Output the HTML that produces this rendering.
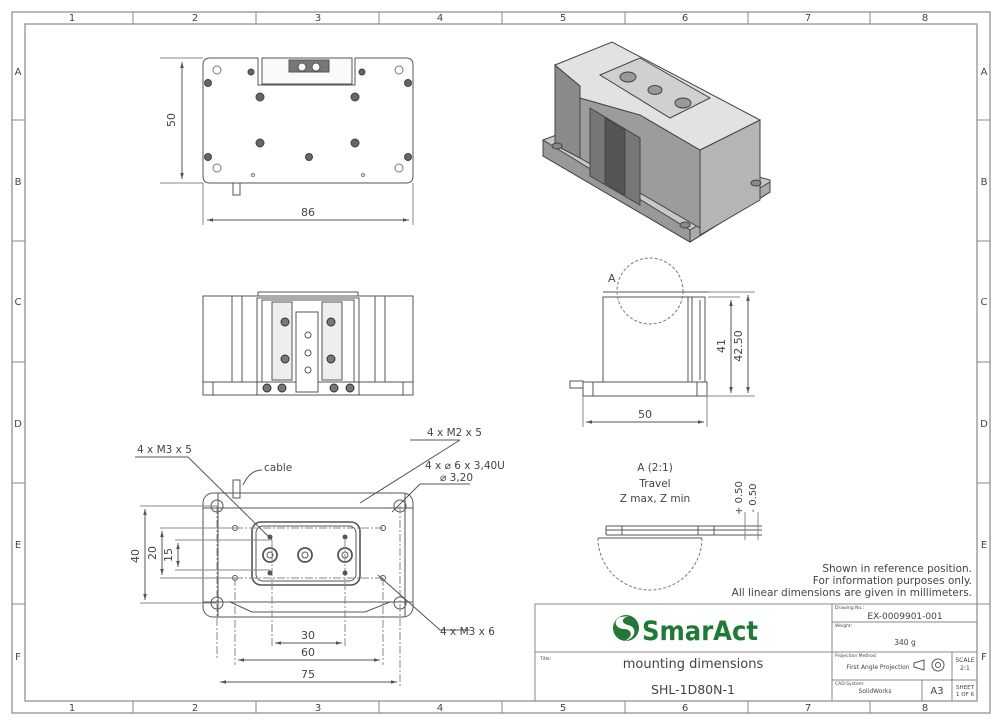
<!DOCTYPE html>
<html><head><meta charset="utf-8"><style>
html,body{margin:0;padding:0;background:#fff}
svg{display:block}
text{font-family:"DejaVu Sans","Liberation Sans",sans-serif;fill:#444}
</style></head><body>
<svg width="1000" height="724" viewBox="0 0 1000 724" xmlns="http://www.w3.org/2000/svg">
<defs>
<marker id="a" viewBox="0 0 10 10" refX="10" refY="5" markerWidth="6" markerHeight="6" orient="auto-start-reverse"><path d="M0,2 L10,5 L0,8z" fill="#555"/></marker>
</defs>
<g fill="none" stroke="#888" stroke-width="1.2">
<rect x="12" y="12" width="978" height="701"/>
<rect x="25" y="24" width="952" height="677"/>
</g>
<g stroke="#888" stroke-width="1">
<path d="M133 12V24M256 12V24M379 12V24M502 12V24M625 12V24M748 12V24M870 12V24M133 701V713M256 701V713M379 701V713M502 701V713M625 701V713M748 701V713M870 701V713"/>
<path d="M12 120H25M12 241H25M12 362H25M12 483H25M12 604H25M977 120H990M977 241H990M977 362H990M977 483H990M977 604H990"/>
</g>
<g font-size="10" text-anchor="middle">
<text x="72" y="21">1</text><text x="195" y="21">2</text><text x="318" y="21">3</text><text x="440" y="21">4</text><text x="563" y="21">5</text><text x="685" y="21">6</text><text x="808" y="21">7</text><text x="925" y="21">8</text>
<text x="72" y="711">1</text><text x="195" y="711">2</text><text x="318" y="711">3</text><text x="440" y="711">4</text><text x="563" y="711">5</text><text x="685" y="711">6</text><text x="808" y="711">7</text><text x="925" y="711">8</text>
<text x="18" y="75">A</text><text x="18" y="185">B</text><text x="18" y="305">C</text><text x="18" y="427">D</text><text x="18" y="548">E</text><text x="18" y="660">F</text>
<text x="984" y="75">A</text><text x="984" y="185">B</text><text x="984" y="305">C</text><text x="984" y="427">D</text><text x="984" y="548">E</text><text x="984" y="660">F</text>
</g>

<!-- TOP VIEW -->
<g fill="none" stroke="#555" stroke-width="1">
<path d="M210 58H258V85H355V58H406Q413 58 413 65V176Q413 183 406 183H210Q203 183 203 176V65Q203 58 210 58Z"/>
<rect x="262" y="58" width="90" height="26" fill="#fafafa"/>
<rect x="289" y="60" width="40" height="12" fill="#777"/>
<circle cx="302" cy="67" r="4" fill="#fff"/><circle cx="316" cy="67" r="4" fill="#fff"/>
<rect x="233" y="183" width="7" height="12"/>
<path d="M203 183H160M203 58H160" stroke="#888"/>
<path d="M182 62V179" marker-start="url(#a)" marker-end="url(#a)"/>
<path d="M203 183V225M413 183V225" stroke="#888"/>
<path d="M207 220H409" marker-start="url(#a)" marker-end="url(#a)"/>
</g>
<g fill="#666" stroke="#444">
<circle cx="260" cy="97" r="4"/><circle cx="355" cy="97" r="4"/><circle cx="260" cy="143" r="4"/><circle cx="355" cy="143" r="4"/>
<circle cx="309" cy="157" r="3.5"/><circle cx="208" cy="83" r="3.5"/><circle cx="408" cy="83" r="3.5"/><circle cx="208" cy="157" r="3.5"/><circle cx="408" cy="157" r="3.5"/>
<circle cx="251" cy="72" r="3"/><circle cx="362" cy="72" r="3"/>
</g>
<g fill="none" stroke="#777"><circle cx="217" cy="70" r="4"/><circle cx="399" cy="70" r="4"/><circle cx="217" cy="168" r="4"/><circle cx="399" cy="168" r="4"/><circle cx="253" cy="175" r="1.5"/><circle cx="363" cy="175" r="1.5"/></g>
<text x="175" y="120" font-size="11" text-anchor="middle" transform="rotate(-90 175 120)">50</text>
<text x="308" y="216" font-size="11" text-anchor="middle">86</text>

<!-- 3D VIEW -->
<g stroke="#444" stroke-width="1">
<path d="M543 140L575 128L770 180L770 192L690 242L543 156Z" fill="#c8c8c8"/>
<path d="M543 140L543 156L690 242L690 230Z" fill="#999"/>
<path d="M690 230L770 182L770 192L690 242Z" fill="#aaa"/>
<path d="M555 65L555 145L580 158L580 86Z" fill="#8a8a8a"/>
<path d="M580 86L580 158L700 228L700 150L640 115L580 98Z" fill="#9c9c9c"/>
<path d="M700 150L760 120L760 200L700 235Z" fill="#b5b5b5"/>
<path d="M555 65L612 42L760 120L700 150L640 115L580 98L580 86Z" fill="#e2e2e2"/>
<path d="M600 75L640 58L710 98L670 118Z" fill="#d0d0d0"/>
<path d="M590 108L640 138L640 205L590 176Z" fill="#777"/>
<path d="M605 118L625 130L625 195L605 183Z" fill="#555"/>
<ellipse cx="628" cy="77" rx="8" ry="5" fill="#999"/><ellipse cx="655" cy="90" rx="7" ry="4.5" fill="#999"/><ellipse cx="683" cy="103" rx="8" ry="5" fill="#999"/>
<ellipse cx="557" cy="146" rx="5" ry="3" fill="#888"/><ellipse cx="685" cy="225" rx="5" ry="3" fill="#888"/><ellipse cx="756" cy="183" rx="5" ry="3" fill="#888"/>
</g>

<!-- FRONT VIEW -->
<g fill="none" stroke="#555" stroke-width="1">
<rect x="203" y="296" width="210" height="86"/>
<rect x="203" y="382" width="210" height="13"/>
<path d="M258 296V292H358V296"/>
<path d="M232 296V382M242 296V382M385 296V382M375 296V382M213 382V395M403 382V395"/>
<rect x="257" y="298" width="102" height="97"/>
<rect x="262" y="300" width="92" height="82"/>
<rect x="272" y="302" width="20" height="78" fill="#eee"/>
<rect x="322" y="302" width="20" height="78" fill="#eee"/>
<rect x="296" y="312" width="22" height="80" fill="#fff"/>
<circle cx="308" cy="335" r="3"/><circle cx="308" cy="353" r="3"/><circle cx="308" cy="370" r="3"/>
</g>
<g fill="#777" stroke="#333"><circle cx="285" cy="322" r="4"/><circle cx="331" cy="322" r="4"/><circle cx="285" cy="359" r="4"/><circle cx="331" cy="359" r="4"/>
<circle cx="267" cy="388" r="4"/><circle cx="282" cy="388" r="4"/><circle cx="334" cy="388" r="4"/><circle cx="350" cy="388" r="4"/></g>

<!-- SIDE VIEW -->
<g fill="none" stroke="#555" stroke-width="1">
<rect x="603" y="297" width="102" height="85"/>
<path d="M603 292H708M688 297V382M692 297V382M700 300V380"/>
<rect x="583" y="382" width="124" height="14"/>
<rect x="570" y="381" width="13" height="7"/>
<path d="M593 382V396M697 382V396"/>
<circle cx="650" cy="291" r="33" stroke-dasharray="3 2" stroke="#777"/>
<path d="M708 292H755M708 297H740M707 396H755" stroke="#888"/>
<path d="M731 300V393" marker-start="url(#a)" marker-end="url(#a)"/>
<path d="M748 295V393" marker-start="url(#a)" marker-end="url(#a)"/>
<path d="M583 396V427M707 396V427" stroke="#888"/>
<path d="M586 422H704" marker-start="url(#a)" marker-end="url(#a)"/>
</g>
<text x="608" y="282" font-size="11">A</text>
<text x="725" y="346" font-size="11" text-anchor="middle" transform="rotate(-90 725 346)">41</text>
<text x="742" y="346" font-size="11" text-anchor="middle" transform="rotate(-90 742 346)">42.50</text>
<text x="645" y="418" font-size="11" text-anchor="middle">50</text>

<!-- DETAIL A -->
<g font-size="10.5" text-anchor="middle"><text x="655" y="471">A (2:1)</text><text x="655" y="487">Travel</text><text x="655" y="502">Z max, Z min</text></g>
<g fill="none" stroke="#555" stroke-width="1">
<path d="M606 526H762M606 530H762M606 535H762M598 538H702M606 526V535M622 526V535M698 526V535M714 526V535"/>
<path d="M598 538A52 52 0 0 0 702 538" stroke-dasharray="3 2" stroke="#777"/>
<path d="M745 512V540M758 512V540" stroke="#888"/>
</g>
<text x="742" y="498" font-size="10" text-anchor="middle" transform="rotate(-90 742 498)">+ 0.50</text>
<text x="756" y="498" font-size="10" text-anchor="middle" transform="rotate(-90 756 498)">- 0.50</text>

<!-- BOTTOM VIEW -->
<g fill="none" stroke="#555" stroke-width="1">
<rect x="203" y="493" width="210" height="124" rx="10"/>
<path d="M203 508H413M203 602H413M218 493V617M405 493V617"/>
<rect x="252" y="522" width="108" height="63" rx="9" stroke-width="1.6"/>
<rect x="256" y="526" width="100" height="55" rx="7"/>
<path d="M230 602L252 612H365L390 602" />
<circle cx="270" cy="555" r="7" stroke-width="1.8"/><circle cx="270" cy="555" r="3"/><circle cx="305" cy="555" r="7" stroke-width="1.8"/><circle cx="305" cy="555" r="3"/><circle cx="345" cy="555" r="7" stroke-width="1.8"/><circle cx="345" cy="555" r="3"/>
<circle cx="217" cy="506" r="6"/><circle cx="400" cy="506" r="6"/><circle cx="217" cy="603" r="6"/><circle cx="400" cy="603" r="6"/>
<circle cx="235" cy="528" r="2.5"/><circle cx="383" cy="528" r="2.5"/><circle cx="235" cy="578" r="2.5"/><circle cx="383" cy="578" r="2.5"/>
<rect x="233" y="480" width="7" height="18"/>
<path d="M235 528H383M235 578H383M217 506V660M400 506V688M272 540V648M345 540V648M235 578V665M383 578V665" stroke="#888" stroke-dasharray="8 2 2 2"/>
<path d="M140 506H217M160 528H235M175 540H270M175 570H270M160 578H235M140 603H217" stroke="#888"/>
<path d="M145 509V600" marker-start="url(#a)" marker-end="url(#a)"/>
<path d="M162 531V575" marker-start="url(#a)" marker-end="url(#a)"/>
<path d="M178 543V567" marker-start="url(#a)" marker-end="url(#a)"/>
<path d="M275 643H342" marker-start="url(#a)" marker-end="url(#a)"/>
<path d="M238 660H380" marker-start="url(#a)" marker-end="url(#a)"/>
<path d="M220 682H397" marker-start="url(#a)" marker-end="url(#a)"/>
<path d="M135 457H188L272 540M243 485Q250 470 262 470M410 440H460M460 440L360 503M420 484H470M420 484L392 512M470 630H440L378 575"/>
</g>
<g fill="#555"><circle cx="270" cy="537" r="2.5"/><circle cx="345" cy="537" r="2.5"/><circle cx="270" cy="573" r="2.5"/><circle cx="345" cy="573" r="2.5"/></g>
<g font-size="10.5"><text x="137" y="453">4 x M3 x 5</text><text x="264" y="471">cable</text><text x="427" y="436">4 x M2 x 5</text><text x="425" y="469">4 x ⌀ 6 x 3,40U</text><text x="440" y="481">⌀ 3,20</text><text x="440" y="635">4 x M3 x 6</text></g>
<g font-size="11" text-anchor="middle">
<text x="139" y="556" transform="rotate(-90 139 556)">40</text>
<text x="156" y="553" transform="rotate(-90 156 553)">20</text>
<text x="172" y="555" transform="rotate(-90 172 555)">15</text>
<text x="308" y="639">30</text><text x="308" y="656">60</text><text x="308" y="678">75</text>
</g>

<!-- notes -->
<g font-size="10.5" text-anchor="end" fill="#555"><text x="972" y="572">Shown in reference position.</text><text x="972" y="584">For information purposes only.</text><text x="972" y="596">All linear dimensions are given in millimeters.</text></g>

<!-- TITLE BLOCK -->
<g fill="none" stroke="#888" stroke-width="1">
<rect x="535" y="604" width="442" height="97"/>
<path d="M535 652H832M832 604V701M832 622H977M832 652H977M832 680H977M952 652V701M922 680V701"/>
</g>
<g>
<circle cx="626" cy="628" r="13" fill="#1f7a36"/>
<path d="M620 617C612 621 616 629 624 629C632 629 634 637 624 641C636 639 638 627 628 625C620 623 622 617 630 616Z" fill="#fff"/>
<text x="642" y="640" font-size="27" font-weight="bold" textLength="116" lengthAdjust="spacingAndGlyphs" style="fill:#1f7a36" font-family="Liberation Sans, sans-serif">SmarAct</text>
</g>
<g font-size="4.5" fill="#555"><text x="540" y="660">Title:</text><text x="835" y="609">Drawing No.:</text><text x="835" y="627">Weight:</text><text x="835" y="657">Projection Method:</text><text x="835" y="685">CAD-System:</text></g>
<text x="693" y="668" font-size="13" text-anchor="middle">mounting dimensions</text>
<text x="693" y="694" font-size="12.5" text-anchor="middle">SHL-1D80N-1</text>
<text x="905" y="619" font-size="9" text-anchor="middle">EX-0009901-001</text>
<text x="905" y="645" font-size="7.5" text-anchor="middle">340 g</text>
<text x="878" y="669" font-size="6" text-anchor="middle">First Angle Projection</text>
<g fill="none" stroke="#555"><path d="M914 663L924 660V670L914 667Z"/><circle cx="938" cy="665" r="6"/><circle cx="938" cy="665" r="2.5"/></g>
<text x="965" y="662" font-size="6" text-anchor="middle">SCALE</text><text x="965" y="670" font-size="6" text-anchor="middle">2:1</text>
<text x="875" y="693" font-size="6" text-anchor="middle">SolidWorks</text>
<text x="937" y="694" font-size="10" text-anchor="middle">A3</text>
<text x="965" y="689" font-size="5.5" text-anchor="middle">SHEET</text><text x="965" y="696" font-size="5.5" text-anchor="middle">1 OF 6</text>
</svg>
</body></html>
